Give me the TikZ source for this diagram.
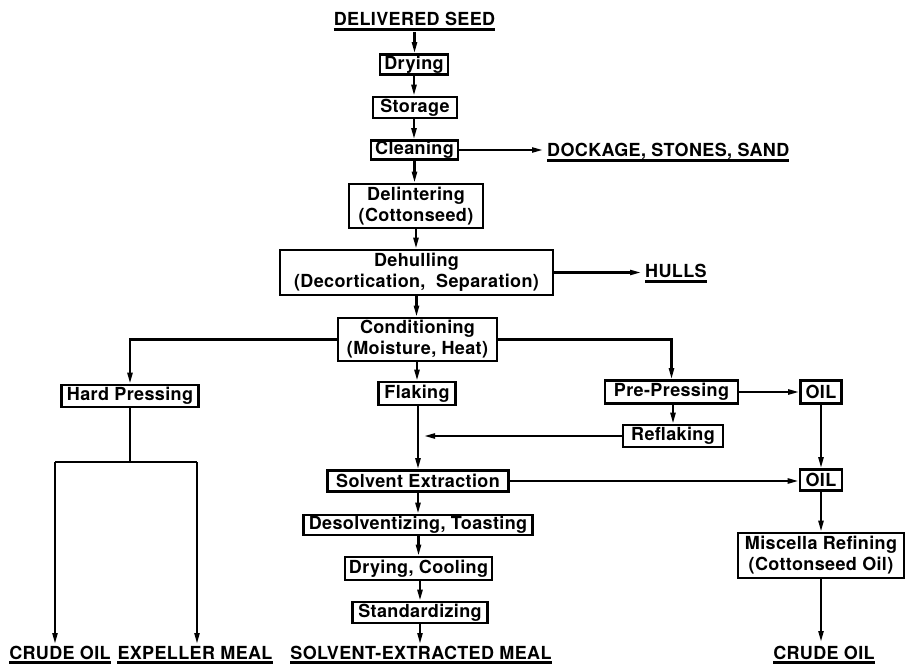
\documentclass[tikz,border=0pt]{standalone}
\usepackage{fontspec}
\setmainfont{TeX Gyre Heros}[LetterSpace=2]
\usetikzlibrary{arrows.meta}
\begin{document}
\begin{tikzpicture}[x=1pt,y=-1pt,
  every node/.style={font=\fontsize{18}{21}\selectfont\bfseries},
  box/.style={draw, line width=2.6pt, inner sep=0pt, align=center},
  lbl/.style={inner sep=0pt, anchor=base},
  ln/.style={line width=2.2pt},
  arr/.style={line width=2.2pt, -{Triangle[length=11pt,width=5pt]}},
  ul/.style={line width=2.4pt}]
\useasboundingbox (0,0) rectangle (905,668);

% main column
\node[lbl] (seed) at (414.5,26) {DELIVERED SEED};
\node[box, minimum width=68, minimum height=20] (dry) at (414,64.5) {Drying};
\node[box, minimum width=84, minimum height=21] (sto) at (415,107.5) {Storage};
\node[box, minimum width=87, minimum height=19] (cln) at (414.5,150) {Cleaning};
\node[box, minimum width=134, minimum height=44] (del) at (416,206) {Delintering\\(Cottonseed)};
\node[box, minimum width=273, minimum height=45] (deh) at (416.5,272.5) {Dehulling\\(Decortication,\ \ Separation)};
\node[box, minimum width=159, minimum height=43] (cond) at (417.5,339.5) {Conditioning\\(Moisture, Heat)};
\node[box, minimum width=77, minimum height=23] (flk) at (417,393.5) {Flaking};
\node[box, minimum width=181, minimum height=21] (se) at (418,481) {Solvent Extraction};
\node[box, minimum width=229, minimum height=20] (des) at (418,525) {Desolventizing, Toasting};
\node[box, minimum width=147, minimum height=23] (dc) at (418.5,568.5) {Drying, Cooling};
\node[box, minimum width=135, minimum height=21] (std) at (420,612.5) {Standardizing};

% side labels
\node[lbl, anchor=base west] (dock) at (547,157) {DOCKAGE, STONES, SAND};
\node[lbl, anchor=base west] (hulls) at (645,278) {HULLS};

% left branch
\node[box, minimum width=137, minimum height=22] (hp) at (130,396) {Hard Pressing};

% right branch
\node[box, minimum width=133, minimum height=23] (pre) at (671.5,392) {Pre-Pressing};
\node[box, minimum width=41, minimum height=23] (oil1) at (821,392) {OIL};
\node[box, minimum width=100, minimum height=22] (refl) at (673,436) {Reflaking};
\node[box, minimum width=42, minimum height=21] (oil2) at (821,480) {OIL};
\node[box, minimum width=166, minimum height=45] (mis) at (821,555.5) {Miscella Refining\\(Cottonseed Oil)};

% bottom labels
\node[lbl] (crude1) at (60,659) {CRUDE OIL};
\node[lbl] (expel) at (195,659) {EXPELLER MEAL};
\node[lbl] (sem) at (421,659) {SOLVENT-EXTRACTED MEAL};
\node[lbl] (crude2) at (824,659) {CRUDE OIL};

% underlines
\foreach \n in {seed,dock,hulls,crude1,expel,sem,crude2}{
  \draw[ul] ([yshift=-3.5pt]\n.base west) -- ([yshift=-3.5pt]\n.base east);
}

% coordinates
\coordinate (hl) at (55,462);
\coordinate (hr) at (197,462);
\coordinate (t1) at (55,644);
\coordinate (t2) at (197,644);
\coordinate (t3) at (420,644);
\coordinate (t4) at (821,642);
\coordinate (rt) at (424,436);

% connectors main column
\draw[arr] ([yshift=-6pt]seed.base) -- (seed.base |- dry.north);
\draw[arr] (dry.south) -- (dry.south |- sto.north);
\draw[arr] (sto.south -| dry.south) -- (dry.south |- cln.north);
\draw[arr] (cln.south) -- (cln.south |- del.north);
\draw[arr] (del.south) -- (del.south |- deh.north);
\draw[arr] (deh.south) -- (deh.south |- cond.north);
\draw[arr] (cond.south -| flk.north) -- (flk.north);
\draw[arr] (flk.south -| se.north) -- (se.north);
\draw[arr] (se.south -| des.north) -- (des.north);
\draw[arr] (des.south -| dc.north) -- (dc.north);
\draw[arr] (dc.south -| std.north) -- (std.north);
\draw[arr] (std.south) -- (t3);

% side outputs
\draw[arr] (cln.east) -- ([xshift=-4pt]cln.east -| dock.west);
\draw[arr] (deh.east) -- ([xshift=-4pt]deh.east -| hulls.west);

% left branch
\draw[arr] (cond.west) -- (cond.west -| hp.north) -- (hp.north);
\draw[ln] (hp.south) -- (hp.south |- hl);
\draw[ln] (hl) -- (hr);
\draw[arr] (hl) -- (t1);
\draw[arr] (hr) -- (t2);

% right branch
\draw[arr] (cond.east) -- (cond.east -| pre.north) -- (pre.north);
\draw[arr] (pre.east) -- (oil1.west);
\draw[arr] (pre.south -| refl.north) -- (refl.north);
\draw[arr] (refl.west) -- (rt);
\draw[arr] (se.east) -- (se.east -| oil2.west);
\draw[arr] (oil1.south) -- (oil2.north);
\draw[arr] (oil2.south) -- (mis.north);
\draw[arr] (mis.south) -- (t4);
\end{tikzpicture}
\end{document}
